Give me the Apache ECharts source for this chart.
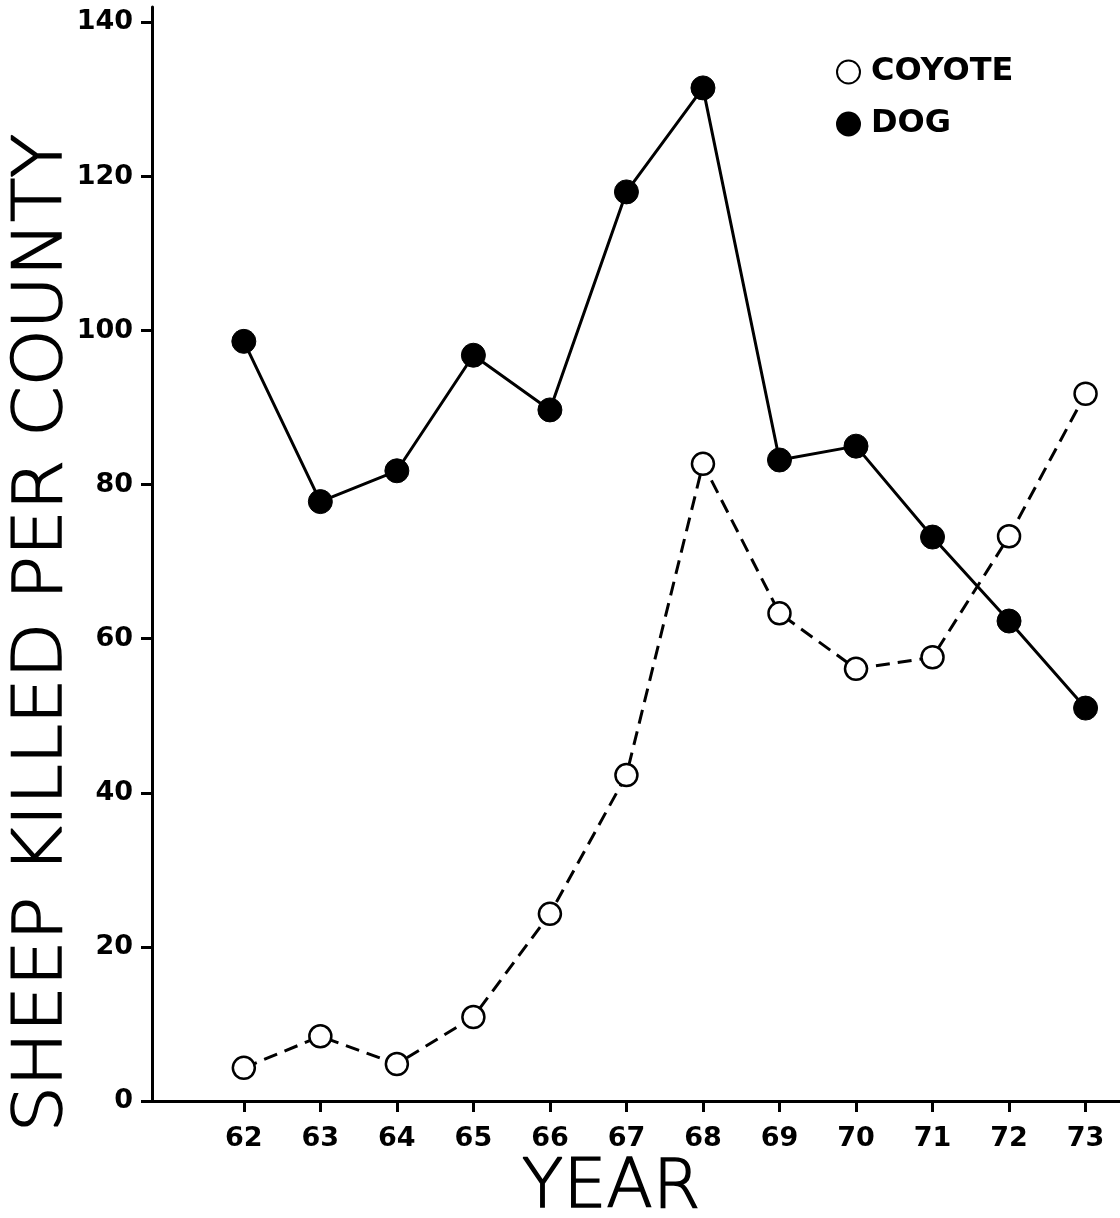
<!DOCTYPE html>
<html><head><meta charset="utf-8">
<script src="https://cdn.jsdelivr.net/npm/echarts@6/dist/echarts.min.js"></script>
<style>html,body{margin:0;padding:0;background:#fff}#c{width:1120px;height:1218px}</style>
</head><body><div id="c"></div>
<script>
const years = [62,63,64,65,66,67,68,69,70,71,72,73];
const coyote = [4.3,8.4,4.8,10.9,24.3,42.3,82.7,63.3,56.1,57.6,73.3,91.8];
const dog = [98.6,77.8,81.8,96.8,89.7,118,131.5,83.2,85,73.2,62.3,51];
const yTicks = [0,20,40,60,80,100,120,140];
const xTicks = years;
const yTitle = 'SHEEP KILLED PER COUNTY';
const xTitle = 'YEAR';

const chart = echarts.init(document.getElementById('c'));
const pair = (a) => years.map((y,i) => [y, a[i]]);
const lbl = {fontFamily:'DejaVu Sans', fontWeight:'bold', fontSize:27, color:'#000'};
chart.setOption({
  animation:false,
  backgroundColor:'#fff',
  grid:{left:152, right:0, top:7, bottom:117},
  xAxis:{type:'value', min:60.8, max:73.45,
    axisLine:{show:true, onZero:false, lineStyle:{color:'#000', width:3}},
    axisTick:{show:true, customValues:xTicks, length:11, lineStyle:{color:'#000', width:3}},
    axisLabel:Object.assign({customValues:xTicks, margin:24}, lbl),
    splitLine:{show:false}},
  yAxis:{type:'value', min:0, max:142,
    axisLine:{show:true, lineStyle:{color:'#000', width:3}},
    axisTick:{show:true, customValues:yTicks, length:11, lineStyle:{color:'#000', width:3}},
    axisLabel:Object.assign({customValues:yTicks, margin:19}, lbl),
    splitLine:{show:false}},
  legend:{orient:'vertical', left:831, top:51, itemWidth:23, itemHeight:23, itemGap:20,
    icon:'circle',
    textStyle:{fontFamily:'DejaVu Sans', fontWeight:'bold', fontSize:32, color:'#000', padding:[0,0,0,6]},
    data:['COYOTE','DOG']},
  series:[
    {name:'COYOTE', type:'line', data:pair(coyote), symbol:'circle', symbolSize:22,
     lineStyle:{color:'#000', width:3, type:[14,8]},
     itemStyle:{color:'#fff', borderColor:'#000', borderWidth:2.5}, z:3},
    {name:'DOG', type:'line', data:pair(dog), symbol:'circle', symbolSize:24,
     lineStyle:{color:'#000', width:3},
     itemStyle:{color:'#000', borderColor:'#000', borderWidth:1}, z:4}
  ],
  graphic:[
    {type:'text', x:43, y:633, rotation:Math.PI/2, scaleX:1.065, scaleY:1,
     style:{text:yTitle, fontFamily:'DejaVu Sans', fontWeight:200, fontSize:68, fill:'#000', stroke:'#000', lineWidth:1.5, align:'center', verticalAlign:'middle'}},
    {type:'text', x:611, y:1189,
     style:{text:xTitle, fontFamily:'DejaVu Sans', fontWeight:200, fontSize:68, fill:'#000', stroke:'#000', lineWidth:1.5, align:'center', verticalAlign:'middle'}}
  ]
});
</script></body></html>
